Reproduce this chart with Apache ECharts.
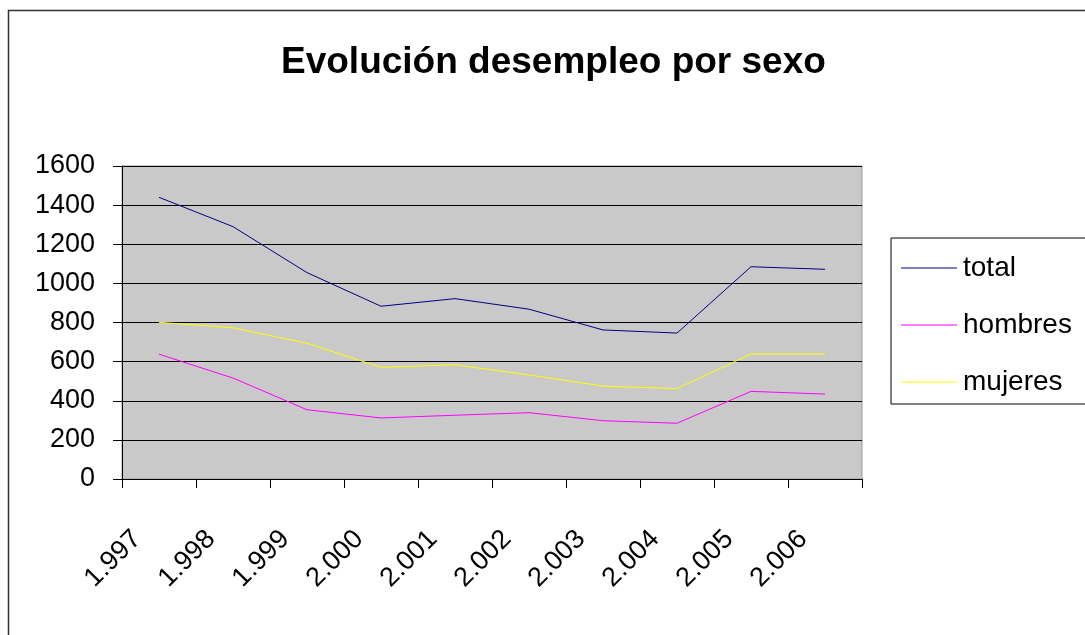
<!DOCTYPE html>
<html>
<head>
<meta charset="utf-8"/>
<title>Evolución desempleo por sexo</title>
<script src="https://cdn.jsdelivr.net/npm/echarts@6/dist/echarts.min.js"></script>
<style>
html,body{margin:0;padding:0;background:#fff;}
#main{width:1085px;height:635px;}
</style>
</head>
<body>
<div id="main"></div>
<script>
// datos
var years = ['1.997','1.998','1.999','2.000','2.001','2.002','2.003','2.004','2.005','2.006'];
var total = [1440, 1290, 1055, 883, 922, 868, 762, 746, 1085, 1072];
var hombres = [638, 516, 354, 312, 326, 339, 298, 285, 448, 434];
var mujeres = [801, 773, 694, 571, 584, 532, 475, 462, 639, 639];

var labelFont = 'Liberation Sans, Arial, sans-serif';

var myChart = echarts.init(document.getElementById('main'));

var option = {
    backgroundColor: '#ffffff',
    animation: false,
    title: {
        text: 'Evolución desempleo por sexo',
        left: 276,
        top: 39,
        textStyle: {fontFamily: labelFont, fontSize: 37, fontWeight: 'bold', color: '#000'}
    },
    legend: {
        orient: 'vertical',
        left: 891,
        top: 238,
        padding: [16, 30, 8, 10],
        borderColor: '#000',
        borderWidth: 1,
        icon: 'rect',
        itemWidth: 56,
        itemHeight: 1,
        itemGap: 29,
        textStyle: {fontFamily: labelFont, fontSize: 28, color: '#000', padding: [0, 0, 0, 1]},
        data: ['total', 'hombres', 'mujeres']
    },
    grid: {left: 122, right: 223, top: 166, bottom: 156, show: true, backgroundColor: '#c9c9c9', borderColor: '#9a9a9a', borderWidth: 1},
    xAxis: {
        type: 'category',
        data: years,
        boundaryGap: true,
        axisLine: {lineStyle: {color: '#000', width: 1}},
        axisTick: {show: true, length: 9, inside: false, lineStyle: {color: '#000'}},
        axisLabel: {rotate: 45, margin: 34, padding: [0, 31, 0, 0], fontFamily: labelFont, fontSize: 27, color: '#000'},
        splitLine: {show: false}
    },
    yAxis: {
        type: 'value',
        min: 0,
        max: 1600,
        interval: 200,
        axisLine: {show: true, lineStyle: {color: '#000', width: 1}},
        axisTick: {show: true, length: 9, lineStyle: {color: '#000'}},
        axisLabel: {margin: 27, fontFamily: labelFont, fontSize: 27, color: '#000', formatter: function (v) { return String(v); }},
        splitLine: {show: true, lineStyle: {color: '#000', width: 1}}
    },
    series: [
        {name: 'total', type: 'line', data: total, symbol: 'none', lineStyle: {color: '#000080', width: 1}, itemStyle: {color: '#000080'}},
        {name: 'hombres', type: 'line', data: hombres, symbol: 'none', lineStyle: {color: '#ff00ff', width: 1}, itemStyle: {color: '#ff00ff'}},
        {name: 'mujeres', type: 'line', data: mujeres, symbol: 'none', lineStyle: {color: '#ffff00', width: 1}, itemStyle: {color: '#ffff00'}}
    ],
    graphic: [{
        type: 'rect',
        silent: true,
        shape: {x: 8.5, y: 10.5, width: 1200, height: 800},
        style: {fill: 'none', stroke: '#333', lineWidth: 1.5}
    }]
};

myChart.setOption(option);
</script>
</body>
</html>
